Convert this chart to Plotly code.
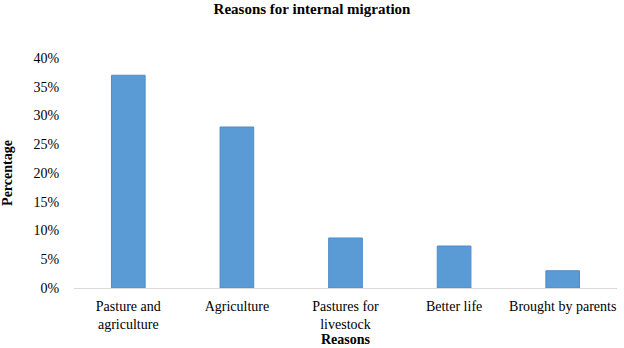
import plotly.graph_objects as go

categories = ["Pasture and<br>agriculture", "Agriculture", "Pastures for<br>livestock", "Better life", "Brought by parents"]
values = [0.37, 0.28, 0.087, 0.073, 0.03]
tick_vals = [0, 0.05, 0.10, 0.15, 0.20, 0.25, 0.30, 0.35, 0.40]
tick_text = ["0%", "5%", "10%", "15%", "20%", "25%", "30%", "35%", "40%"]

serif = "Liberation Serif, Times New Roman, serif"

fig = go.Figure(go.Bar(
    x=categories, y=values,
    marker=dict(color="#5B9BD5", line=dict(color="#4E8CC8", width=1)),
    width=0.31,
))

fig.update_layout(
    width=624, height=348,
    margin=dict(l=74, r=7, t=58, b=60),
    plot_bgcolor="white", paper_bgcolor="white",
    showlegend=False,
    font=dict(family=serif, size=14, color="#000000"),
    title=dict(text="<b>Reasons for internal migration</b>", x=0.5, xanchor="center",
               y=0.99, yanchor="top", font=dict(family=serif, size=15, color="#000000"),
               automargin=False),
)
fig.update_xaxes(
    automargin=False,
    showline=True, linecolor="#D9D9D9", linewidth=1, showgrid=False,
    ticks="outside", ticklen=5, tickcolor="white", tickfont=dict(family=serif, size=14),
    title=dict(text="<b>Reasons</b>", font=dict(family=serif, size=14), standoff=0),
)
fig.update_yaxes(
    automargin=False,
    range=[0, 0.40], tickvals=tick_vals, ticktext=tick_text,
    showline=False, showgrid=False, zeroline=False,
    ticks="outside", ticklen=11, tickcolor="white",
    tickfont=dict(family=serif, size=14),
    title=dict(text="<b>Percentage</b>", font=dict(family=serif, size=14), standoff=18),
)

fig.write_html("out.html", config={"displayModeBar": False},
               post_script="document.body.style.margin='0';document.body.style.overflow='hidden';")
